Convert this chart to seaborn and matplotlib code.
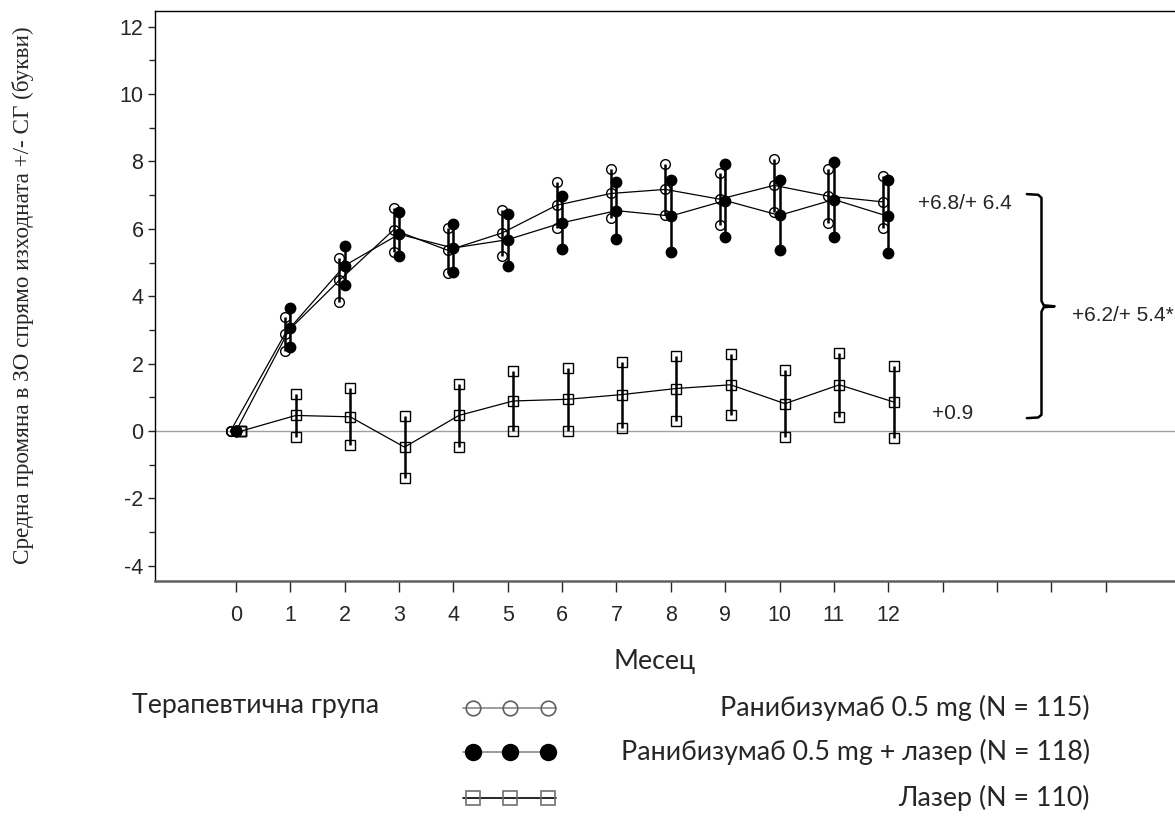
import numpy as np
import pandas as pd
import matplotlib
matplotlib.use("Agg")
import matplotlib.pyplot as plt
import seaborn as sns

# months of follow-up
months = [0, 1, 2, 3, 4, 5, 6, 7, 8, 9, 10, 11, 12]

# mean change from baseline in BCVA (letters) and its SE, per treatment group
rani_mean = [0, 2.88, 4.47, 5.97, 5.36, 5.88, 6.70, 7.05, 7.17, 6.88, 7.29, 6.97, 6.80]
rani_se = [0, 0.50, 0.65, 0.65, 0.67, 0.68, 0.68, 0.72, 0.75, 0.77, 0.78, 0.80, 0.78]

rani_laser_mean = [0, 3.07, 4.91, 5.84, 5.43, 5.68, 6.18, 6.54, 6.38, 6.84, 6.40, 6.87, 6.37]
rani_laser_se = [0, 0.57, 0.57, 0.66, 0.70, 0.77, 0.78, 0.84, 1.06, 1.07, 1.04, 1.11, 1.09]

laser_mean = [0, 0.46, 0.42, -0.48, 0.46, 0.89, 0.94, 1.08, 1.26, 1.37, 0.81, 1.37, 0.86]
laser_se = [0, 0.64, 0.85, 0.92, 0.93, 0.89, 0.94, 0.98, 0.97, 0.90, 1.00, 0.95, 1.08]

group_labels = ["Ранибизумаб 0.5 mg (N = 115)",
                "Ранибизумаб 0.5 mg + лазер (N = 118)",
                "Лазер (N = 110)"]
diff_labels = ["+6.8/+ 6.4", "+0.9", "+6.2/+ 5.4*"]

sns.set_style("ticks")
plt.rcParams['font.family'] = ['Liberation Sans', 'DejaVu Sans']
plt.rcParams['axes.unicode_minus'] = False

W, H = 1175, 816
fig = plt.figure(figsize=(W / 100, H / 100), dpi=100)

# axes placed in pixel terms so the right spine falls outside the figure
x0, x1 = -1.5, 17.5
px_per_month = 54.35
left_px, top_px, bottom_px = 154.5, 11, 581
width_px = (x1 - x0) * px_per_month
ax = fig.add_axes([left_px / W, (H - bottom_px) / H, width_px / W, (bottom_px - top_px) / H])

groups = [
    (rani_mean, rani_se, -0.1, dict(marker='o', ms=7, mfc='none', mec='black', mew=1.0)),
    (rani_laser_mean, rani_laser_se, 0.0, dict(marker='o', ms=7.5, mfc='black', mec='black', mew=1.0)),
    (laser_mean, laser_se, 0.1, dict(marker='s', ms=6.5, mfc='none', mec='black', mew=1.0)),
]

for mean, se, off, mk in groups:
    df = pd.DataFrame({'month': np.array(months) + off, 'mean': mean, 'se': se})
    df['lo'] = df['mean'] - df['se']
    df['hi'] = df['mean'] + df['se']
    ax.vlines(df['month'], df['lo'], df['hi'], color='black', lw=1.8, zorder=3)
    sns.lineplot(data=df, x='month', y='mean', ax=ax, color='black', lw=0.9,
                 errorbar=None, sort=False, zorder=4, **mk)
    for col in ['lo', 'hi']:
        ax.plot(df['month'], df[col], linestyle='none', zorder=4, **mk)

ax.axhline(0, color='#a0a0a0', lw=1.0, zorder=1)

ax.set_xlim(x0, x1)
ax.set_ylim(-4.454, 12.466)
ax.set_xticks(range(0, 17))
ax.set_xticklabels([str(m) if m <= 12 else '' for m in range(0, 17)])
ax.set_yticks(range(-4, 13, 2))
ax.set_yticks(range(-3, 13, 2), minor=True)
ax.tick_params(axis='x', length=8, width=1, direction='out', labelsize=15.5, pad=9)
ax.tick_params(axis='y', which='major', length=5, width=1, labelsize=15.5, pad=3)
ax.tick_params(axis='y', which='minor', length=4, width=1)
ax.set_xlabel('')
ax.set_ylabel('')
for s in ['top', 'left', 'right']:
    ax.spines[s].set_color('black')
    ax.spines[s].set_linewidth(1.0)
ax.spines['bottom'].set_color('#606060')
ax.spines['bottom'].set_linewidth(1.8)

# differences at month 12
ax.text(12.54, 6.76, diff_labels[0], fontsize=15, va='center', ha='left', clip_on=False)
ax.text(12.8, 0.53, diff_labels[1], fontsize=15, va='center', ha='left', clip_on=False)
ax.text(15.39, 3.44, diff_labels[2], fontsize=15, va='center', ha='left', clip_on=False)

# curly brace
bx = [14.55, 14.76, 14.82, 14.82, 14.86, 15.06, 14.86, 14.82, 14.82, 14.76, 14.55]
by = [7.03, 7.01, 6.92, 3.86, 3.73, 3.70, 3.67, 3.54, 0.48, 0.40, 0.38]
ax.plot(bx, by, color='black', lw=1.8, clip_on=False, solid_joinstyle='round')

# y axis label
fig.text(23 / W, 1 - 295 / H, 'Средна промяна в ЗО спрямо изходната +/- СГ (букви)',
         rotation=90, ha='center', va='center', fontsize=16.7, family='Liberation Serif')

# legend area in pixel coordinates
lax = fig.add_axes([0, 0, 1, 1], zorder=-1)
lax.set_xlim(0, W)
lax.set_ylim(H, 0)
lax.axis('off')

legend_font = ['Lato', 'DejaVu Sans']
lax.text(655, 662, 'Месец', fontsize=19.3, family=legend_font, ha='center', va='center')
lax.text(132, 706, 'Терапевтична група', fontsize=19.3, family=legend_font, ha='left', va='center')

key_x = [473, 510, 548]
key_rows = [708, 752, 798]
key_styles = [
    dict(color='#8a8a8a', marker='o', ms=10.5, mfc='none', mec='#606060', mew=1.2),
    dict(color='#8a8a8a', marker='o', ms=11.5, mfc='black', mec='black', mew=1.0),
    dict(color='black', marker='s', ms=10, mfc='none', mec='#707070', mew=1.2),
]
for yk, st, lab in zip(key_rows, key_styles, group_labels):
    lax.plot([key_x[0] - 10, key_x[-1] + 8], [yk, yk], color=st['color'], lw=1.2)
    lax.plot(key_x, [yk] * 3, linestyle='none', **{k: v for k, v in st.items() if k != 'color'})
    lax.text(1090, yk, lab, fontsize=19.3, family=legend_font, ha='right', va='center')

fig.savefig('out.png', dpi=100)
